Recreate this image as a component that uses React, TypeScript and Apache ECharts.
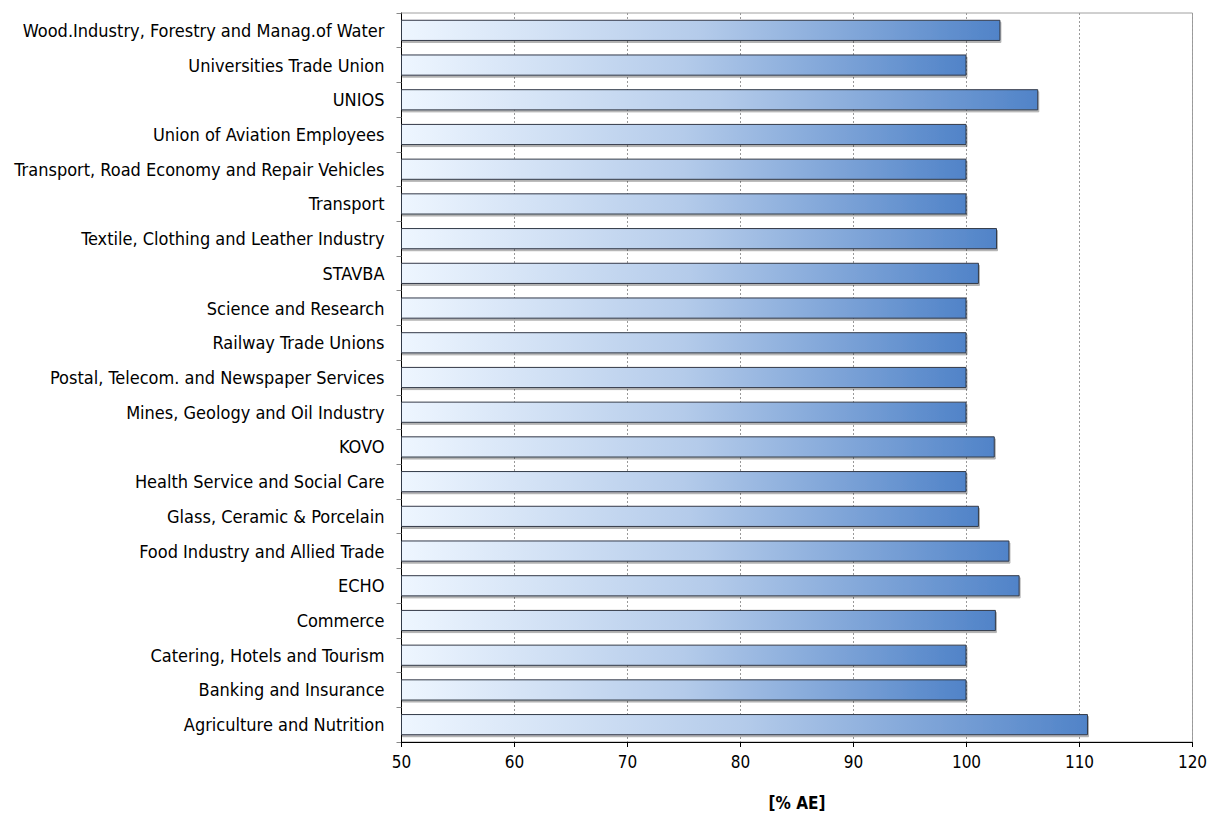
import React, { useEffect, useRef } from "react";
import * as echarts from "echarts";

const categories = [
  "Wood.Industry, Forestry and Manag.of Water",
  "Universities Trade Union",
  "UNIOS",
  "Union of Aviation Employees",
  "Transport, Road Economy and Repair Vehicles",
  "Transport",
  "Textile, Clothing and Leather Industry",
  "STAVBA",
  "Science and Research",
  "Railway Trade Unions",
  "Postal, Telecom. and Newspaper Services",
  "Mines, Geology and Oil Industry",
  "KOVO",
  "Health Service and Social Care",
  "Glass, Ceramic & Porcelain",
  "Food Industry and Allied Trade",
  "ECHO",
  "Commerce",
  "Catering, Hotels and Tourism",
  "Banking and Insurance",
  "Agriculture and Nutrition",
];

const values = [
  103.0, 100, 106.35, 100, 100, 100, 102.7, 101.1, 100, 100, 100, 100, 102.5,
  100, 101.1, 103.8, 104.7, 102.6, 100, 100, 110.75,
];

const xTicks = { min: 50, max: 120, interval: 10 };
const axisName = "[% AE]";

export default function App() {
  const ref = useRef<HTMLDivElement>(null);
  useEffect(() => {
    if (!ref.current) return;
    const chart = echarts.init(ref.current, undefined, { renderer: "svg" });
    const font = "'DejaVu Sans Condensed', 'DejaVu Sans', sans-serif";
    chart.setOption({
      animation: false,
      backgroundColor: "#ffffff",
      grid: {
        left: 401.5,
        right: 16.5,
        top: 13,
        bottom: 71,
        show: true,
        borderColor: "#a0a0a0",
        borderWidth: 1,
        containLabel: false,
        outerBoundsMode: "none",
      },
      xAxis: {
        type: "value",
        min: xTicks.min,
        max: xTicks.max,
        interval: xTicks.interval,
        name: axisName,
        nameLocation: "middle",
        nameGap: 52,
        nameTextStyle: {
          fontFamily: font,
          fontSize: 17,
          fontWeight: "bold",
          color: "#000",
        },
        axisLine: { show: true, lineStyle: { color: "#000", width: 1 } },
        axisTick: { show: true, length: 5, lineStyle: { color: "#000" } },
        axisLabel: {
          fontFamily: font,
          fontSize: 17,
          color: "#000",
          margin: 11,
        },
        splitLine: {
          show: true,
          lineStyle: { color: "#999", type: [2, 2], width: 1 },
        },
      },
      yAxis: {
        type: "category",
        data: categories,
        inverse: true,
        axisLine: { show: true, lineStyle: { color: "#000", width: 1 } },
        axisTick: { show: true, length: 5, lineStyle: { color: "#888" } },
        axisLabel: {
          fontFamily: font,
          fontSize: 18,
          color: "#000",
          margin: 17,
        },
        splitLine: { show: false },
      },
      series: [
        {
          type: "bar",
          data: values,
          barCategoryGap: "39%",
          itemStyle: {
            color: new echarts.graphic.LinearGradient(0, 0, 1, 0, [
              { offset: 0, color: "#eef6ff" },
              { offset: 0.5, color: "#b4cbea" },
              { offset: 1, color: "#5083c8" },
            ]),
            borderColor: "#333a48",
            borderWidth: 1,
            shadowColor: "rgba(0,0,0,0.3)",
            shadowOffsetX: 1,
            shadowOffsetY: 2,
            shadowBlur: 0,
          },
        },
      ],
    });
    return () => chart.dispose();
  }, []);
  return (
    <div
      ref={ref}
      style={{ position: "absolute", left: 0, top: 0, width: 1209, height: 813 }}
    />
  );
}
